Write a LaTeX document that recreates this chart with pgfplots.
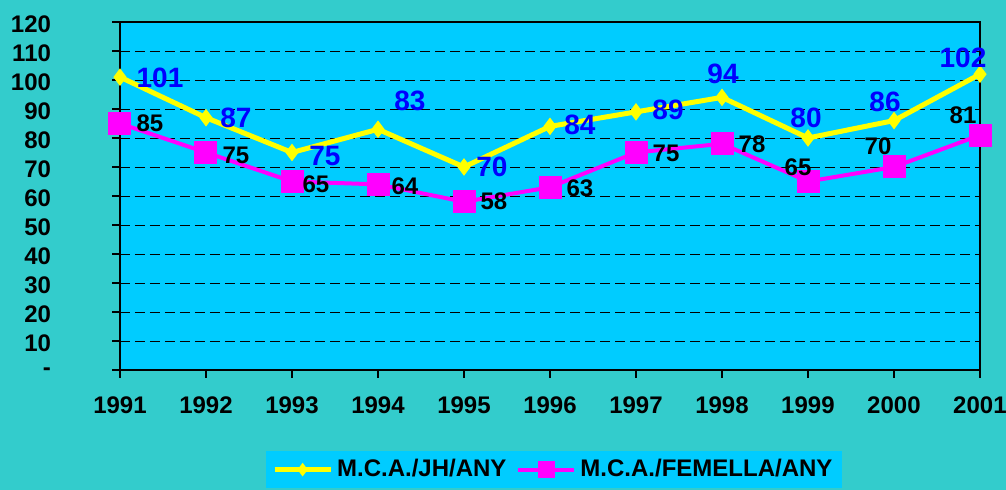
\documentclass[border=0pt]{standalone}
\usepackage{fontspec}
\setmainfont{Liberation Sans}
\usepackage{pgfplots}
\usepackage{pgfplotstable}
\pgfplotsset{compat=1.18}
\definecolor{bgteal}{HTML}{33CCCC}
\definecolor{plotcyan}{HTML}{00CCFF}
\definecolor{lblue}{HTML}{0000FF}
\definecolor{myyellow}{HTML}{FFFF00}
\definecolor{mymag}{HTML}{FF00FF}
\pgfplotsset{
 yleg/.style={legend image code/.code={\draw[mark repeat=2,mark phase=2,##1,mark size=3pt] plot coordinates {(0pt,0pt) (14pt,0pt) (28pt,0pt)};}},
 mleg/.style={legend image code/.code={\draw[mark repeat=2,mark phase=2,##1,mark size=4pt] plot coordinates {(0pt,0pt) (14pt,0pt) (28pt,0pt)};}},
}

\pgfplotstableread{
x y dx dy
1991 101 20 -0.5
1992 87 15 0
1993 75 16.5 -1.7
1994 83 16 14
1995 70 14 0
1996 84 15 0.7
1997 89 16 1
1998 94 0.5 12
1999 80 -1 10
2000 86 -4.5 9.3
2001 102 -8.5 8
}\jh

\pgfplotstableread{
x y dx dy
1991 85 15 0
1992 75 15 -1.2
1993 65 12 -1.2
1994 64 13.5 -0.8
1995 58 15 0.4
1996 63 15 -0.3
1997 75 15 -0.3
1998 78 15 0
1999 65 -5 7
2000 70 -8 10.5
2001 81 -8.5 9.8
}\fem

\begin{document}
\begin{tikzpicture}
\path[fill=bgteal, use as bounding box] (0,0) rectangle (503pt,245pt);
\begin{axis}[
 at={(60pt,60pt)}, anchor=south west,
 scale only axis, width=430pt, height=174pt,
 xmin=1991, xmax=2001, ymin=0, ymax=120,
 axis background/.style={fill=plotcyan},
 xtick={1991,1992,...,2001}, ytick={0,10,...,120},
 yticklabels={-,10,20,30,40,50,60,70,80,90,100,110,120},
 /pgf/number format/assume math mode=true,
 x tick label style={/pgf/number format/1000 sep={}, yshift=-6pt},
 y tick label style={xshift=-27pt, yshift=-1pt},
 ticklabel style={font=\bfseries\fontsize{12}{13}\selectfont},
 tick align=outside, tick pos=left, major tick length=4pt,
 tick style={black, line width=0.6pt},
 ymajorgrids, grid style={black, dash pattern=on 5pt off 2.5pt, line width=0.4pt},
 axis line style={black, line width=0.7pt},
 clip=false,
 legend style={at={(0.505,-0.2328)}, anchor=north, fill=plotcyan, draw=none,
   font=\bfseries\fontsize{12}{13}\selectfont,
   /tikz/every even column/.append style={column sep=3pt}},
 legend columns=-1,
 visualization depends on={\thisrow{dx} \as \dx},
 visualization depends on={\thisrow{dy} \as \dy},
]
\addplot[color=myyellow, line width=2.5pt, mark=diamond*, mark size=4pt,
  mark options={solid, fill=myyellow, line width=0.5pt},
  nodes near coords,
  every node near coord/.append style={anchor=center, xshift=\dx pt, yshift=\dy pt, text=lblue, font=\bfseries\fontsize{14}{15}\selectfont},
  yleg
] table[x=x,y=y] {\jh};
\addlegendentry{M.C.A./JH/ANY}
\addplot[color=mymag, line width=2pt, mark=square*, mark size=5.5pt,
  mark options={solid, fill=mymag, line width=0.5pt},
  nodes near coords,
  every node near coord/.append style={anchor=center, xshift=\dx pt, yshift=\dy pt, text=black, font=\bfseries\fontsize{12}{13}\selectfont},
  mleg
] table[x=x,y=y] {\fem};
\addlegendentry{M.C.A./FEMELLA/ANY}
\end{axis}
\end{tikzpicture}
\end{document}
